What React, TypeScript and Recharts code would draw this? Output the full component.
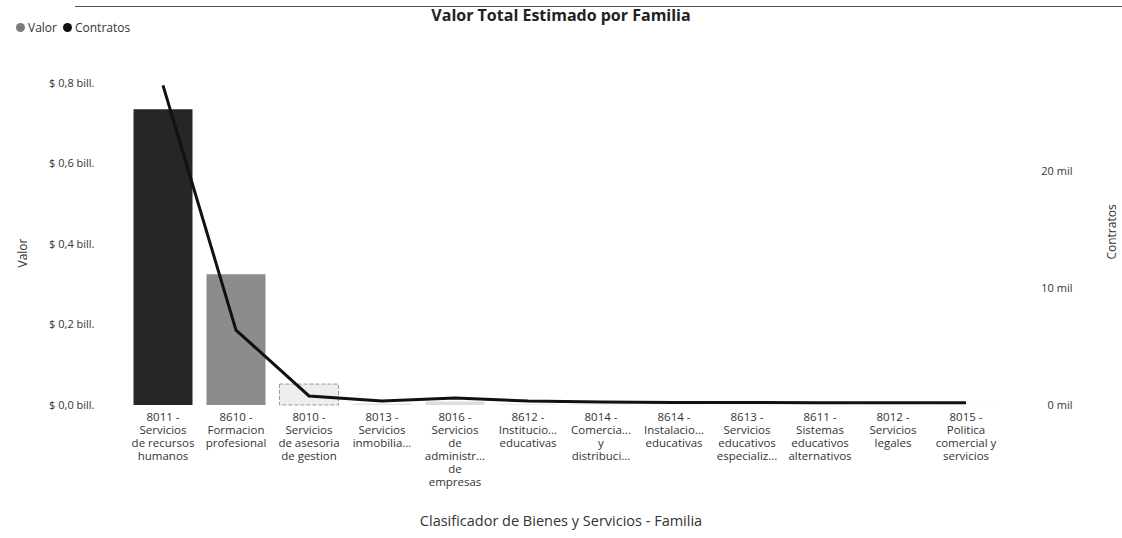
import { ComposedChart, Bar, Line, XAxis, YAxis, Cell } from 'recharts'

const familias = [
  '8011', '8610', '8010', '8013', '8016', '8612',
  '8014', '8614', '8613', '8611', '8012', '8015',
]

const etiquetas = [
  ['8011 -', 'Servicios', 'de recursos', 'humanos'],
  ['8610 -', 'Formacion', 'profesional'],
  ['8010 -', 'Servicios', 'de asesoria', 'de gestion'],
  ['8013 -', 'Servicios', 'inmobilia...'],
  ['8016 -', 'Servicios', 'de', 'administr...', 'de', 'empresas'],
  ['8612 -', 'Institucio...', 'educativas'],
  ['8014 -', 'Comercia...', 'y', 'distribuci...'],
  ['8614 -', 'Instalacio...', 'educativas'],
  ['8613 -', 'Servicios', 'educativos', 'especializ...'],
  ['8611 -', 'Sistemas', 'educativos', 'alternativos'],
  ['8012 -', 'Servicios', 'legales'],
  ['8015 -', 'Politica', 'comercial y', 'servicios'],
]

// valor total estimado (pesos)
const valor = [735e9, 325e9, 52e9, 4e9, 9e9, 3e9, 2e9, 1.5e9, 1.5e9, 1e9, 1e9, 0.8e9]
// numero de contratos
const contratos = [27300, 6400, 770, 340, 600, 340, 250, 220, 220, 200, 200, 200]

const valorTicks = [0, 2e11, 4e11, 6e11, 8e11]
const contratosTicks = [0, 10000, 20000]

const coloresBarra = ['#262626', '#8c8c8c', '#eeeeee', '#e6e6e6', '#dddddd', '#eeeeee',
  '#eeeeee', '#eeeeee', '#eeeeee', '#eeeeee', '#eeeeee', '#eeeeee']

const data = familias.map((f, i) => ({
  familia: f,
  valor: valor[i],
  contratos: contratos[i],
}))

const font = '"Open Sans", "Noto Sans", sans-serif'

const formatValor = (v: number) => `$ ${(v / 1e12).toFixed(1).replace('.', ',')} bill.`
const formatContratos = (v: number) => `${v / 1000} mil`

function XTick({ x, y, index }: any) {
  const lines = etiquetas[index] || []
  return (
    <text x={x} y={y} textAnchor="middle" fontFamily={font} fontSize={11.5} fill="#333">
      {lines.map((l, i) => (
        <tspan key={i} x={x} dy={i === 0 ? 16 : 13}>{l}</tspan>
      ))}
    </text>
  )
}

function LeftTick({ x, y, payload }: any) {
  return (
    <text x={x} y={y} dy="0.35em" textAnchor="end" fontFamily={font} fontSize={11} fill="#333">
      {formatValor(payload.value)}
    </text>
  )
}

function RightTick({ x, y, payload }: any) {
  return (
    <text x={x} y={y} dy="0.35em" textAnchor="end" fontFamily={font} fontSize={11} fill="#333">
      {formatContratos(payload.value)}
    </text>
  )
}

function Leyenda() {
  return (
    <div style={{ display: 'flex', alignItems: 'center', fontFamily: font, fontSize: 12, color: '#333' }}>
      <span style={{ width: 9, height: 9, borderRadius: '50%', background: '#7a7a7a', display: 'inline-block', marginRight: 3 }} />
      <span style={{ marginRight: 6 }}>Valor</span>
      <span style={{ width: 9, height: 9, borderRadius: '50%', background: '#111', display: 'inline-block', marginRight: 3 }} />
      <span>Contratos</span>
    </div>
  )
}

export default function App() {
  return (
    <div style={{ position: 'absolute', left: 0, top: 0, width: 1122, height: 538, background: '#fff' }}>
      <div style={{ position: 'absolute', left: 75, top: 6, width: 1047, height: 1, background: '#555' }} />
      <div
        style={{
          position: 'absolute', left: 0, top: 4, width: 1122, textAlign: 'center',
          fontFamily: font, fontSize: 16, fontWeight: 700, color: '#222',
        }}
      >
        Valor Total Estimado por Familia
      </div>
      <div style={{ position: 'absolute', left: 16, top: 19 }}>
        <Leyenda />
      </div>
      <ComposedChart
        width={1122}
        height={538}
        data={data}
        margin={{ top: 83, right: 0, bottom: 0, left: 0 }}
      >
        <XAxis
          dataKey="familia"
          axisLine={false}
          tickLine={false}
          tickSize={0}
          tickMargin={0}
          height={133}
          interval={0}
          tick={<XTick />}
        />
        <YAxis
          yAxisId="valor"
          orientation="left"
          width={126.5}
          domain={[0, 8e11]}
          ticks={valorTicks}
          axisLine={false}
          tickLine={false}
          tickSize={0}
          tickMargin={32}
          tick={<LeftTick />}
        />
        <YAxis
          yAxisId="contratos"
          orientation="right"
          width={119.5}
          domain={[0, 27500]}
          ticks={contratosTicks}
          axisLine={false}
          tickLine={false}
          tickSize={0}
          tickMargin={70}
          tick={<RightTick />}
        />
        <Bar yAxisId="valor" dataKey="valor" name="Valor" barSize={59} isAnimationActive={false}>
          {data.map((d, i) => (
            <Cell
              key={d.familia}
              fill={coloresBarra[i]}
              stroke={i === 2 ? '#999' : 'none'}
              strokeDasharray={i === 2 ? '4 2' : undefined}
            />
          ))}
        </Bar>
        <Line
          yAxisId="contratos"
          dataKey="contratos"
          name="Contratos"
          type="linear"
          stroke="#111"
          strokeWidth={3}
          dot={false}
          isAnimationActive={false}
        />
      </ComposedChart>
      <div
        style={{
          position: 'absolute', left: 22, top: 253, transform: 'translate(-50%, -50%) rotate(-90deg)',
          fontFamily: font, fontSize: 12, color: '#333', whiteSpace: 'nowrap',
        }}
      >
        Valor
      </div>
      <div
        style={{
          position: 'absolute', left: 1111, top: 232, transform: 'translate(-50%, -50%) rotate(-90deg)',
          fontFamily: font, fontSize: 12, color: '#333', whiteSpace: 'nowrap',
        }}
      >
        Contratos
      </div>
      <div
        style={{
          position: 'absolute', left: 0, top: 511, width: 1122, textAlign: 'center',
          fontFamily: font, fontSize: 14.5, color: '#333',
        }}
      >
        Clasificador de Bienes y Servicios - Familia
      </div>
    </div>
  )
}
